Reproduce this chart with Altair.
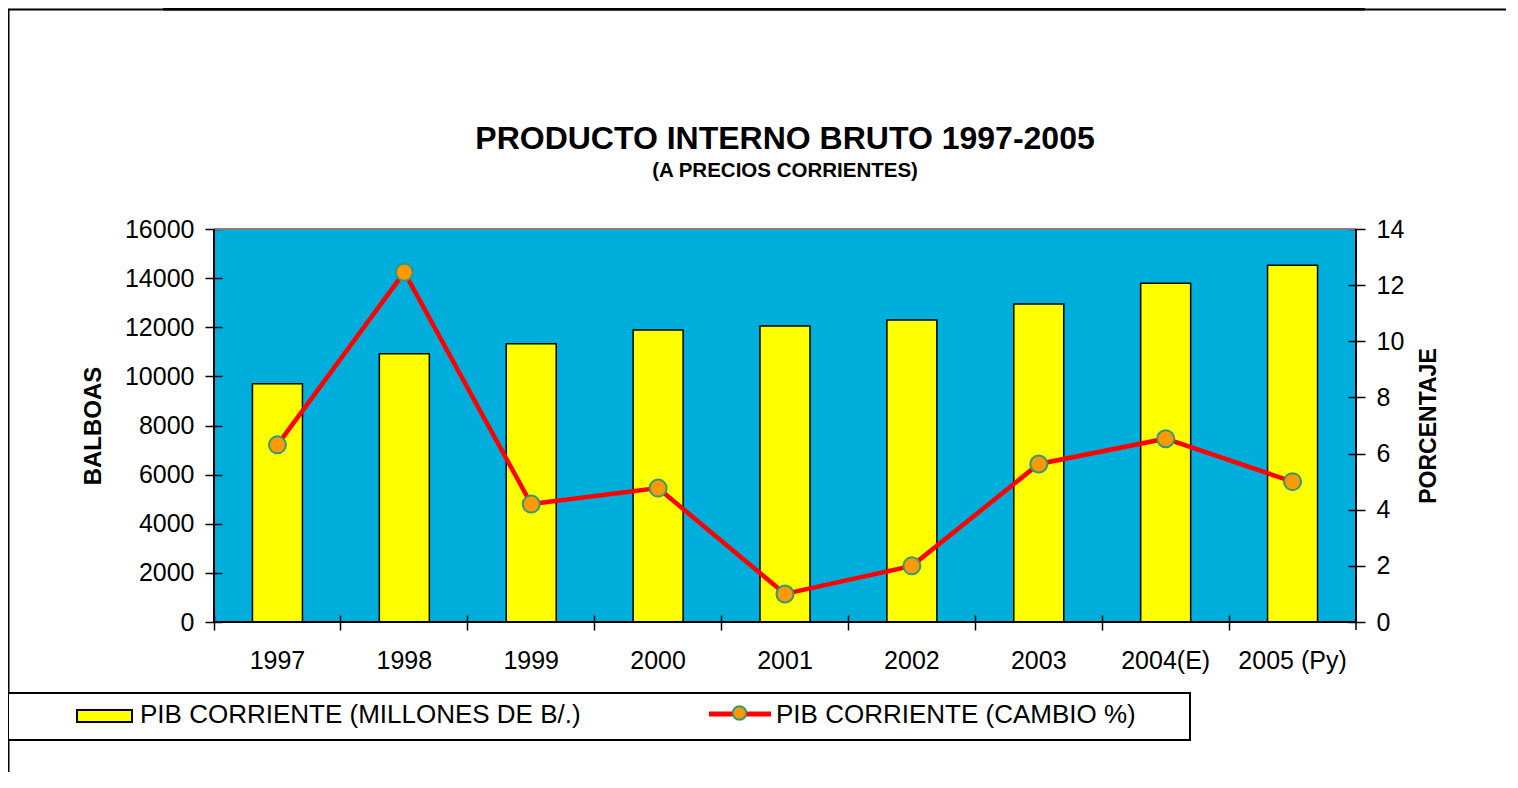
import altair as alt
import pandas as pd

# ---- data ----
years = ["1997", "1998", "1999", "2000", "2001", "2002", "2003", "2004(E)", "2005 (Py)"]
pib_millones = [9700, 10920, 11330, 11890, 12050, 12300, 12950, 13790, 14520]
cambio_pct = [6.31, 12.46, 4.20, 4.77, 1.00, 2.00, 5.63, 6.53, 5.00]
left_ticks = [0, 2000, 4000, 6000, 8000, 10000, 12000, 14000, 16000]
right_ticks = [0, 2, 4, 6, 8, 10, 12, 14]
title_text = "PRODUCTO INTERNO BRUTO 1997-2005"
subtitle_text = "(A PRECIOS CORRIENTES)"
left_title = "BALBOAS"
right_title = "PORCENTAJE"
legend_labels = ["PIB CORRIENTE (MILLONES DE B/.)", "PIB CORRIENTE (CAMBIO %)"]

df = pd.DataFrame({"year": years, "pib": pib_millones, "cambio": cambio_pct})

W, H = 1142, 393
FONT = "Liberation Sans"
BG = "#00AEDB"
LBL = 25
one = alt.Data(values=[{"k": 1}])

x_enc = alt.X(
    "year:N", sort=years,
    scale=alt.Scale(paddingInner=0, paddingOuter=0),
    axis=alt.Axis(title=None, bandPosition=0, offset=-7, tickSize=15,
                  domain=False, labelAngle=0, labelFont=FONT, labelFontSize=LBL,
                  labelColor="black", tickColor="black", tickWidth=1.5, labelPadding=18,
                  grid=False),
)

bars = alt.Chart(df).mark_bar(fill="#FFFF00", stroke="black", strokeWidth=1.5,
                              width={"band": 0.394}).encode(
    x=x_enc,
    y=alt.Y("pib:Q", scale=alt.Scale(domain=[0, 16000], nice=False),
            axis=alt.Axis(values=left_ticks, format="d", title=left_title, offset=-8,
                          tickSize=17, domain=False, grid=False, labelFont=FONT,
                          labelFontSize=LBL, labelColor="black", tickColor="black",
                          tickWidth=1.5, labelPadding=11, labelFlush=False,
                          labelOverlap=False, titleFont=FONT, titleFontSize=24,
                          titleFontWeight="bold", titleColor="black", titlePadding=19)),
)

y_right = alt.Y("cambio:Q", scale=alt.Scale(domain=[0, 14], nice=False),
                axis=alt.Axis(orient="right", values=right_ticks, title=right_title,
                              offset=-8, tickSize=17, domain=False, grid=False,
                              labelFont=FONT, labelFontSize=LBL, labelColor="black",
                              tickColor="black", tickWidth=1.5, labelPadding=11,
                              labelFlush=False, labelOverlap=False,
                              titleFont=FONT, titleFontSize=23, titleFontWeight="bold",
                              titleColor="black", titleAngle=270, titleBaseline="top",
                              titlePadding=14))

line = alt.Chart(df).mark_line(color="#FF0000", strokeWidth=4.5).encode(
    x=alt.X("year:N", sort=years), y=y_right)
pts = alt.Chart(df).mark_circle(size=289, color="#FF9900", stroke="#339977",
                                strokeWidth=2, opacity=1).encode(
    x=alt.X("year:N", sort=years), y=alt.Y("cambio:Q"))
line_layer = alt.layer(line, pts)


def rule(x, x2, y, y2, color="black", w=2):
    return alt.Chart(one).mark_rule(color=color, strokeWidth=w).encode(
        x=alt.value(x), x2=alt.value(x2), y=alt.value(y), y2=alt.value(y2))


def label(text, x, y, size, weight="normal", align="left"):
    return alt.Chart(one).mark_text(text=text, align=align, baseline="alphabetic",
                                    font=FONT, fontSize=size, fontWeight=weight,
                                    color="black").encode(x=alt.value(x), y=alt.value(y))


# plot frame / axis lines
frame = [
    rule(0, W, 0, 0, color="#808080", w=2),
    rule(0, 0, 0, H),
    rule(W, W, 0, H),
    rule(0, W, H, H),
    rule(W, W, H - 7, H + 8, w=1.5),
    # outer chart-area border (left and top) and strip at the top
    rule(-205.5, -205.5, -220, 560),
    rule(-206, 1310, -219.5, -219.5),
    rule(-51, 1151, -220, -220, w=3),
]

titles = [
    label(title_text, W / 2, -80, 32, weight="bold", align="center"),
    label(subtitle_text, W / 2, -52, 20.5, weight="bold", align="center"),
]

# legend box and entries
legend_box = alt.Chart(one).mark_rect(fill="white", stroke="black", strokeWidth=2).encode(
    x=alt.value(-206), x2=alt.value(976), y=alt.value(464), y2=alt.value(511))
leg_rect = alt.Chart(one).mark_rect(fill="#FFFF00", stroke="black", strokeWidth=2).encode(
    x=alt.value(-137), x2=alt.value(-82), y=alt.value(481), y2=alt.value(493))
leg_line = rule(495, 557, 485, 485, color="#FF0000", w=5)
leg_pt = alt.Chart(one).mark_circle(size=180, color="#FF9900", stroke="#339977",
                                    strokeWidth=2, opacity=1).encode(
    x=alt.value(525.5), y=alt.value(484))
leg_t1 = label(legend_labels[0], -74, 494, 26)
leg_t2 = label(legend_labels[1], 562, 494, 26)

main = alt.layer(bars, line_layer).resolve_scale(y="independent")

chart = alt.layer(
    main, *frame, *titles, legend_box, leg_rect, leg_line, leg_pt, leg_t1, leg_t2
).properties(
    width=W, height=H,
    autosize=alt.AutoSizeParams(type="none"),
    padding={"left": 206, "top": 221, "right": 150, "bottom": 150},
    background="white",
).configure_view(fill=BG, stroke=None)

chart.save("out.html", embed_options={"renderer": "svg", "actions": False})
